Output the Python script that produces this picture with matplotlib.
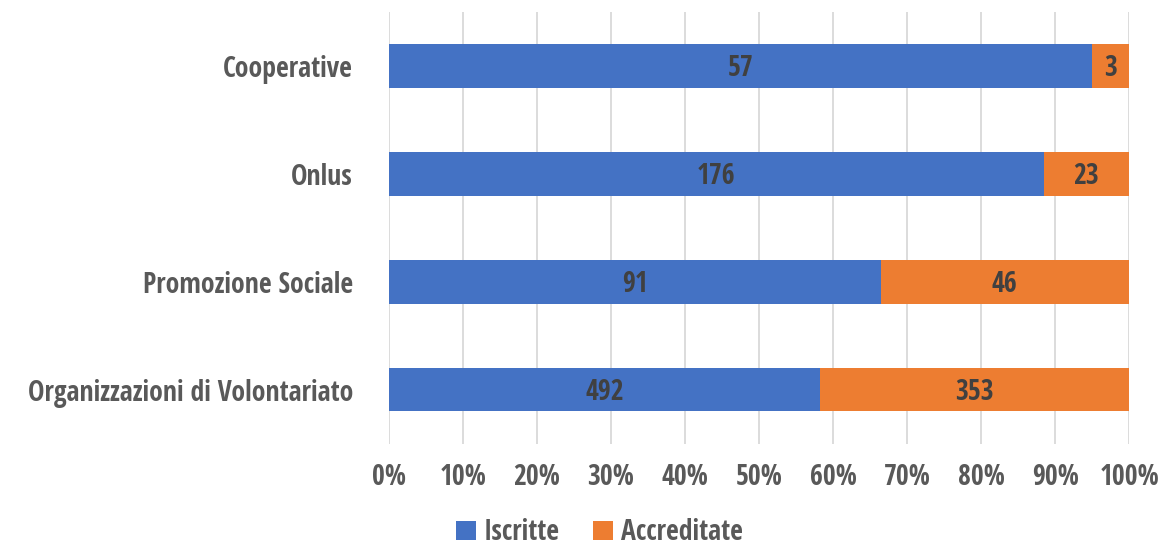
import matplotlib
matplotlib.use("Agg")
import matplotlib.pyplot as plt
from matplotlib import font_manager
import numpy as np

# pick a semi-condensed sans with a semibold/bold face, closest to the original look
prefs = ['Open Sans Condensed', 'Noto Sans SemiCondensed', 'Fira Sans Condensed',
         'IBM Plex Sans Condensed', 'Roboto Condensed', 'Encode Sans Semi Condensed',
         'Liberation Sans']
avail = {}
for f in font_manager.fontManager.ttflist:
    w = f.weight if isinstance(f.weight, int) else 400
    if f.style == 'normal':
        avail.setdefault(f.name, set()).add(w)
fam = 'Liberation Sans'
weight = 'bold'
for p in prefs:
    if p in avail:
        fam = p
        ws = avail[p]
        weight = 600 if 600 in ws else 'bold'
        break
plt.rcParams['font.family'] = [fam, 'DejaVu Sans']

categories = ['Organizzazioni di Volontariato', 'Promozione Sociale', 'Onlus', 'Cooperative']
iscritte = [492, 91, 176, 57]
accreditate = [353, 46, 23, 3]
series_names = ['Iscritte', 'Accreditate']

blue = '#4472C4'
orange = '#ED7D31'
txt = '#595959'

isc = np.array(iscritte, dtype=float)
acc = np.array(accreditate, dtype=float)
tot = isc + acc
p_isc = isc / tot
p_acc = acc / tot

fig = plt.figure(figsize=(11.64, 5.5), dpi=100)

# size the font so the longest category label is about as wide as in the original
probe = fig.text(0, 0, categories[0], fontsize=10, fontweight=weight)
wpx = probe.get_window_extent(renderer=fig.canvas.get_renderer()).width
probe.remove()
fs = float(np.clip(10 * 344 / wpx, 13, 20))

ax = fig.add_axes([0.3342, 0.193, 0.6358, 0.785])

y = np.arange(len(categories))
ax.barh(y, p_isc, height=0.4, color=blue, label=series_names[0], zorder=3)
ax.barh(y, p_acc, left=p_isc, height=0.4, color=orange, label=series_names[1], zorder=3)

for i in range(len(categories)):
    ax.text(p_isc[i] / 2, y[i] - 0.02, str(iscritte[i]), ha='center', va='center',
            fontsize=fs, fontweight=weight, color='#404040', zorder=4)
    ax.text(p_isc[i] + p_acc[i] / 2, y[i] - 0.02, str(accreditate[i]), ha='center', va='center',
            fontsize=fs, fontweight=weight, color='#404040', zorder=4)

ax.set_xlim(0, 1)
ax.set_ylim(-0.5, 3.5)
ax.set_xticks(np.arange(0, 1.01, 0.1))
ax.set_xticklabels([f'{int(round(v * 100))}%' for v in np.arange(0, 1.01, 0.1)])
ax.set_yticks(y)
ax.set_yticklabels(categories)
ax.grid(axis='x', color='#D9D9D9', linewidth=1.3, zorder=0)
for s in ax.spines.values():
    s.set_visible(False)
ax.tick_params(axis='both', length=0, labelsize=fs, labelcolor=txt)
ax.tick_params(axis='x', pad=14)
ax.tick_params(axis='y', pad=26)
for lbl in ax.get_xticklabels() + ax.get_yticklabels():
    lbl.set_fontweight(weight)

leg = fig.legend(loc='lower center', bbox_to_anchor=(0.515, 0.0), ncol=2, frameon=False,
                 handlelength=0.7, handleheight=0.7, handletextpad=0.3, borderaxespad=0.0,
                 borderpad=0.1, columnspacing=1.2, labelcolor=txt,
                 prop={'weight': weight, 'size': fs})

fig.savefig('out.png', dpi=100)
